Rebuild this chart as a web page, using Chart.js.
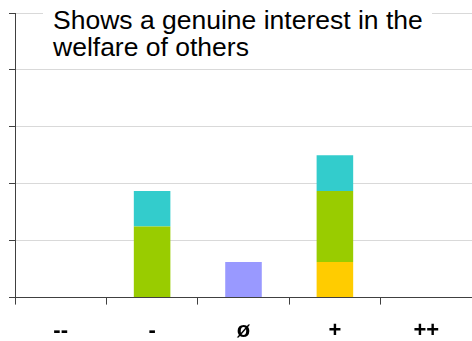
<!DOCTYPE html>
<html>
<head>
<meta charset="utf-8">
<script src="https://cdn.jsdelivr.net/npm/chart.js@4"></script>
<style>
  body { margin: 0; background: #fff; }
  #wrap { position: relative; width: 472px; height: 341px; }
  #title {
    position: absolute; left: 43px; top: 0; width: 379px; height: 61px;
    background: #fff; padding: 7px 0 0 10px;
    font-family: "Liberation Sans", Arial, sans-serif; font-size: 26.5px; line-height: 27px; color: #000;
  }
</style>
</head>
<body>
<div id="wrap">
  <canvas id="chart" width="472" height="341"></canvas>
  <div id="title">Shows a genuine interest in the<br>welfare of others</div>
</div>
<script>
const categories = ["--", "-", "ø", "+", "++"];
const yellowValues = [0, 0, 0, 12.5, 0];
const purpleValues = [0, 0, 12.5, 0, 0];
const greenValues = [0, 25, 0, 25, 0];
const cyanValues = [0, 12.5, 0, 12.5, 0];

const axisColor = "#404040";
const gridColor = "#d9d9d9";

function makeSet(data, color) {
  return { data: data, backgroundColor: color, barPercentage: 0.4, categoryPercentage: 1 };
}

document.addEventListener("DOMContentLoaded", function () {
  new Chart(document.getElementById("chart"), {
    type: "bar",
    data: {
      labels: categories,
      datasets: [
        makeSet(yellowValues, "#FFCC00"),
        makeSet(purpleValues, "#9999FF"),
        makeSet(greenValues, "#99CC00"),
        makeSet(cyanValues, "#33CCCC"),
      ],
    },
    options: {
      responsive: false,
      animation: false,
      layout: { padding: { left: 9, top: 13, right: 0, bottom: -16 } },
      plugins: { legend: { display: false }, tooltip: { enabled: false } },
      scales: {
        x: {
          stacked: true,
          border: { color: axisColor, width: 1 },
          grid: { drawOnChartArea: false, tickLength: 7, tickColor: axisColor, offset: true },
          ticks: {
            padding: 13,
            color: "#000",
            font: { family: "'Liberation Sans', Arial, sans-serif", size: 22, weight: "bold" },
          },
        },
        y: {
          stacked: true,
          min: 0,
          max: 100,
          border: { color: axisColor, width: 1 },
          grid: { color: gridColor, tickLength: 6, tickColor: axisColor },
          ticks: { display: false, stepSize: 20 },
        },
      },
    },
  });
});
</script>
</body>
</html>
